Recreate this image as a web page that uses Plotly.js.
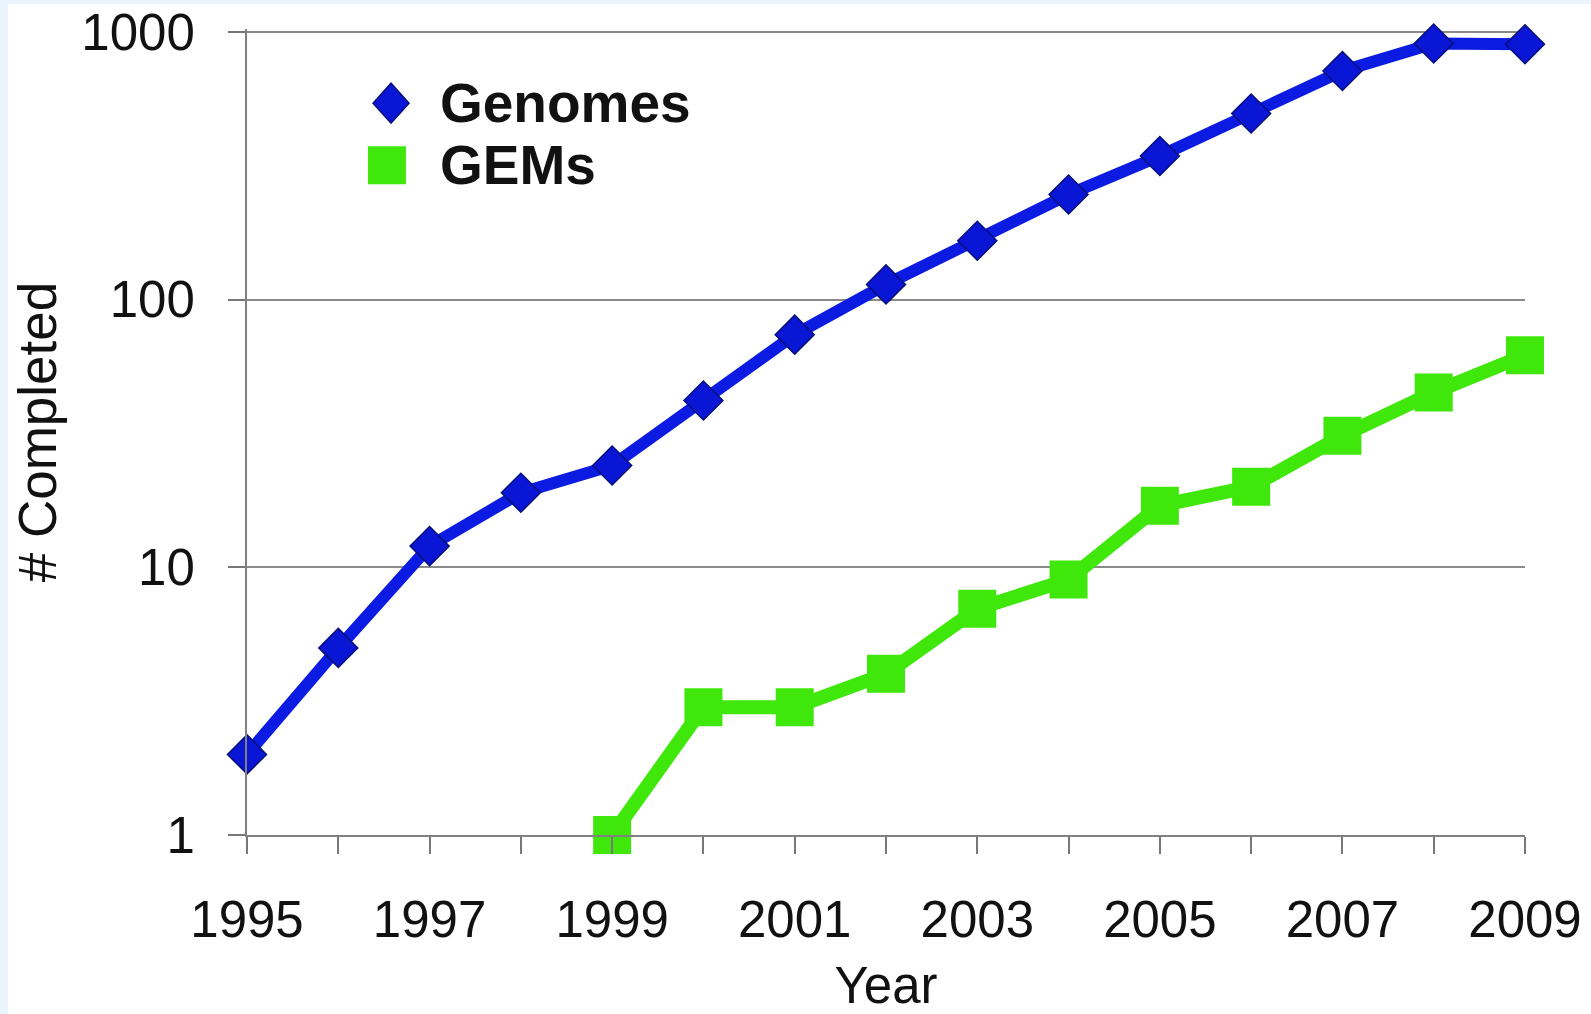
<!DOCTYPE html>
<html>
<head>
<meta charset="utf-8">
<script src="https://cdn.plot.ly/plotly-3.0.1.min.js"></script>
<style>
  html, body { margin: 0; padding: 0; background: #eaf4fd; width: 1591px; height: 1014px; overflow: hidden; }
  #chart { position: absolute; left: 8px; top: 4px; width: 1583px; height: 1010px; background: #fff; }
</style>
</head>
<body>
<div id="chart"></div>
<script>
const years = [1995, 1996, 1997, 1998, 1999, 2000, 2001, 2002, 2003, 2004, 2005, 2006, 2007, 2008, 2009];
const genomes = [2, 5, 12, 19, 24, 42, 74, 114, 166, 247, 344, 496, 715, 905, 900];
const gemYears = [1999, 2000, 2001, 2002, 2003, 2004, 2005, 2006, 2007, 2008, 2009];
const gems = [1, 3, 3, 4, 7, 9, 17, 20, 31, 45, 62];
const xTickLabels = years.map(y => (y % 2 === 1 ? String(y) : ''));
const yTickVals = [1, 10, 100, 1000];
const yTickLabels = ['1', '10', '100', '1000'];
const seriesNames = ['Genomes', 'GEMs'];

const blue = '#0b1be2';
const green = '#3fe80a';
const font = 'Liberation Sans, Arial, Helvetica, sans-serif';

const traces = [
  {
    x: years, y: genomes, name: seriesNames[0], type: 'scatter', mode: 'lines+markers',
    line: { color: blue, width: 12 },
    marker: { symbol: 'diamond', size: 30, color: '#0a16d6', line: { color: '#06107a', width: 1.5 } },
    showlegend: false, cliponaxis: false
  },
  {
    x: gemYears, y: gems, name: seriesNames[1], type: 'scatter', mode: 'lines+markers',
    line: { color: green, width: 14 },
    marker: { symbol: 'square', size: 38, color: green },
    showlegend: false, cliponaxis: false
  }
];

const layout = {
  width: 1583, height: 1010,
  margin: { l: 239, r: 66, t: 25, b: 179 },
  paper_bgcolor: '#ffffff', plot_bgcolor: '#ffffff',
  font: { family: font, color: '#111', size: 51 },
  showlegend: false,
  xaxis: {
    range: [1995, 2009], tickvals: years, ticktext: xTickLabels,
    ticks: 'outside', ticklen: 17, tickwidth: 2, tickcolor: '#777',
    showline: true, linecolor: '#808080', linewidth: 2,
    showgrid: false, zeroline: false,
    tickfont: { family: font, size: 51, color: '#111' },
    ticklabelstandoff: 22, ticklabeloverflow: 'allow',
    title: { text: 'Year', font: { family: font, size: 51, color: '#111' }, standoff: 25 },
    automargin: false
  },
  yaxis: {
    type: 'log', range: [0, 3.011], tickvals: yTickVals, ticktext: yTickLabels,
    ticks: 'outside', ticklen: 17, tickwidth: 2, tickcolor: '#777',
    showline: true, linecolor: '#808080', linewidth: 2,
    showgrid: true, gridcolor: '#8a8a8a', gridwidth: 2, zeroline: false,
    tickfont: { family: font, size: 51, color: '#111' },
    ticklabelstandoff: 23, ticklabeloverflow: 'allow',
    title: { text: '# Completed', font: { family: font, size: 53, color: '#111' }, standoff: 36 },
    automargin: false
  },
  shapes: [
    {
      type: 'path', xref: 'paper', yref: 'paper', xsizemode: 'pixel', ysizemode: 'pixel',
      xanchor: 0.1127, yanchor: 0.908,
      path: 'M -18 0 L 0 20 L 18 0 L 0 -20 Z',
      fillcolor: '#0a16d6', line: { color: '#06107a', width: 1.5 }
    },
    {
      type: 'rect', xref: 'paper', yref: 'paper', xsizemode: 'pixel', ysizemode: 'pixel',
      xanchor: 0.1095, yanchor: 0.831,
      x0: -19, x1: 19, y0: -19, y1: 19,
      fillcolor: green, line: { width: 0 }
    }
  ],
  annotations: [
    { xref: 'paper', yref: 'paper', x: 0.1495, y: 0.908, xanchor: 'left', yanchor: 'middle',
      text: '<b>' + seriesNames[0] + '</b>', showarrow: false,
      font: { family: font, size: 55, color: '#111' } },
    { xref: 'paper', yref: 'paper', x: 0.1495, y: 0.831, xanchor: 'left', yanchor: 'middle',
      text: '<b>' + seriesNames[1] + '</b>', showarrow: false,
      font: { family: font, size: 55, color: '#111' } }
  ]
};

Plotly.newPlot('chart', traces, layout, { displayModeBar: false, staticPlot: true });
</script>
</body>
</html>
